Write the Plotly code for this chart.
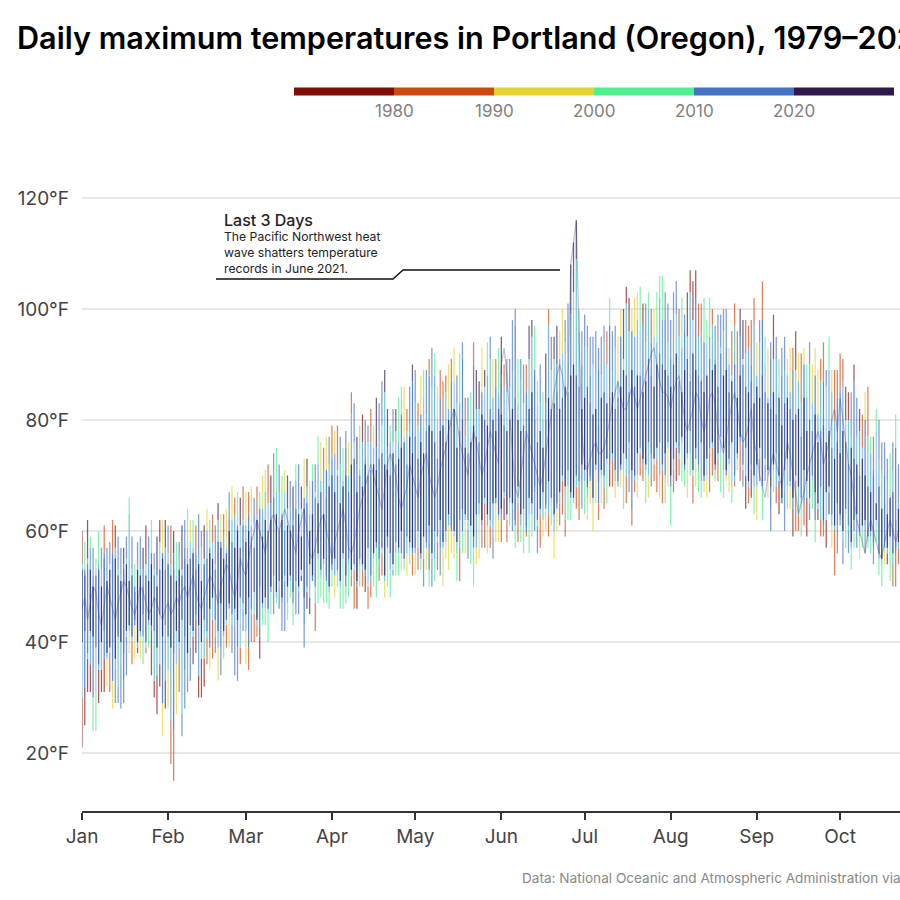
import plotly.graph_objects as go

MONTHS = ["Jan", "Feb", "Mar", "Apr", "May", "Jun", "Jul", "Aug", "Sep", "Oct"]
MONTH_STARTS = [0, 31, 59, 90, 120, 151, 181, 212, 243, 273]
Y_TICKS = [20, 40, 60, 80, 100, 120]
Y_LABELS = ["20°F", "40°F", "60°F", "80°F", "100°F", "120°F"]
DECADE_LABELS = ["1980", "1990", "2000", "2010", "2020"]
DECADE_COLORS = ["#7f0f05", "#cc4a10", "#e6d232", "#50f090", "#4472c4", "#2f1a4a"]

# Warmest and coldest daily maximum seen on each calendar day (deg F), Jan 1 -> late Oct
HI = [
 60,58,62,59,57,55,60,57,61,57,58,62,61,59,57,57,59,66,59,54,58,59,57,61,59,62,56,59,62,62,62,
 61,61,60,58,58,61,62,64,62,62,61,63,60,61,64,62,63,61,65,63,63,64,67,68,66,67,66,68,
 67,67,68,66,68,67,70,71,72,70,74,75,72,70,71,70,69,68,72,72,68,73,73,69,72,72,77,76,75,77,77,
 79,78,79,77,75,78,76,85,83,77,79,81,80,79,82,79,84,83,87,89,82,79,82,82,84,86,86,82,86,90,
 89,83,88,89,89,91,93,92,86,89,87,88,90,91,93,88,92,94,84,84,85,94,89,87,93,89,94,95,91,91,93,
 95,90,91,91,98,100,91,91,90,90,97,98,97,87,90,85,92,100,95,95,97,96,100,98,101,108,112,116,100,96,
 99,97,95,95,96,93,95,97,96,102,96,97,95,100,100,104,102,100,102,103,104,101,101,103,100,100,103,106,106,103,101,
 98,103,105,100,102,99,103,107,105,107,101,101,102,98,102,100,97,99,99,100,100,93,96,101,96,100,98,98,97,98,102,
 94,98,105,95,93,94,99,95,91,93,95,91,93,93,96,92,92,93,90,94,90,93,89,91,94,89,95,89,89,89,
 92,91,86,85,85,90,84,82,81,85,86,77,77,82,80,76,76,73,74,76,81,72,
]
LO = [
 21,25,31,31,24,24,29,31,31,32,31,28,29,29,28,29,34,38,36,37,38,37,36,38,39,34,30,27,32,23,28,
 28,18,15,27,31,23,28,31,33,36,38,30,30,32,36,35,37,38,33,34,37,39,39,38,34,33,36,42,
 36,35,40,40,41,37,43,43,40,45,45,47,46,42,42,44,48,43,45,45,51,39,46,45,52,42,47,48,47,47,46,
 50,48,50,46,46,47,48,50,46,46,50,50,49,46,48,50,48,51,52,48,50,48,52,52,52,53,53,52,54,52,
 52,53,53,50,53,50,50,51,53,52,50,55,53,56,55,51,51,56,56,55,54,50,54,55,57,57,56,57,55,58,58,
 58,62,58,61,60,57,58,58,56,59,56,59,60,56,57,59,60,59,61,55,60,61,63,59,62,62,65,64,62,64,
 63,62,65,60,65,62,65,64,65,68,68,66,68,68,64,65,67,61,67,66,70,69,65,66,68,69,67,66,65,65,68,
 61,67,69,70,69,68,66,70,65,68,67,66,67,66,67,70,69,69,67,66,69,67,65,68,71,69,68,64,65,66,63,
 62,69,62,69,66,60,67,65,63,66,60,64,64,59,60,60,59,61,59,62,64,58,62,59,59,57,63,57,52,56,
 61,54,57,56,53,57,57,55,57,56,57,56,54,58,52,50,54,54,51,50,50,54,
]
# Dense centre of each day's spread
CORE_HI = [
 53,52,54,53,50,52,53,50,55,51,53,55,55,52,51,53,54,51,52,49,53,52,50,52,51,54,52,50,53,55,53,
 54,52,53,51,53,52,55,54,55,56,53,54,51,54,55,56,55,53,58,57,55,56,60,58,57,60,57,61,
 58,60,59,57,62,60,59,62,60,62,66,63,60,62,60,61,60,61,64,63,59,64,65,60,63,66,65,67,63,66,68,
 70,67,70,65,68,70,67,72,73,67,70,68,72,70,71,72,71,73,74,72,71,70,74,72,73,75,76,72,77,74,
 77,73,76,74,78,79,78,76,73,78,79,76,80,80,82,75,78,80,75,74,76,79,77,76,81,80,79,82,80,78,82,
 81,79,78,80,82,84,80,78,79,77,82,85,80,76,78,75,80,84,82,83,85,82,84,86,85,88,90,88,86,82,
 84,86,83,81,82,79,84,85,83,84,85,82,84,86,89,88,85,89,86,88,88,85,87,91,88,86,90,92,90,89,88,
 86,90,92,87,85,89,91,87,92,89,88,87,85,88,91,89,90,86,92,88,89,85,87,90,84,88,90,86,85,87,83,
 86,84,88,85,83,82,85,81,84,79,83,84,82,80,81,82,77,84,78,80,78,81,76,78,79,76,78,75,73,76,
 74,78,76,72,75,73,72,70,73,70,68,67,70,65,68,64,65,63,66,67,62,64,
]
CORE_LO = [
 40,42,38,42,41,39,36,40,42,38,39,40,37,41,40,38,42,43,41,44,40,42,45,40,44,43,42,39,45,41,43,
 41,39,38,42,40,44,41,38,43,42,45,43,40,44,42,46,48,44,42,47,42,44,47,45,46,44,48,47,
 45,48,46,49,44,50,47,48,46,50,52,49,51,48,52,50,52,49,51,50,53,48,50,54,52,50,56,53,55,52,50,
 54,55,53,51,56,52,55,53,54,51,55,54,53,57,52,56,58,55,57,52,59,56,54,58,57,60,55,59,58,57,
 57,60,56,59,58,61,56,60,59,62,58,60,63,61,60,58,62,64,63,62,61,59,63,65,62,66,63,62,65,66,63,
 64,67,63,66,65,62,68,63,64,61,66,65,68,62,64,67,65,69,66,63,65,67,70,68,71,67,66,70,69,72,
 71,68,70,66,72,69,71,70,73,72,74,71,69,72,74,73,76,71,70,74,75,73,72,76,74,73,75,76,72,74,76,
 70,73,76,74,77,72,74,78,71,75,72,76,70,73,75,76,72,74,77,75,71,73,76,70,74,77,72,75,69,72,70,
 72,75,69,73,71,68,72,74,70,66,71,73,69,66,70,68,66,71,69,66,70,67,65,68,62,67,68,63,61,65,
 63,60,64,61,58,62,63,60,61,62,59,60,58,62,56,55,58,57,59,56,57,58,
]
# The year 2021, drawn as a thin line over the strips
YEAR_2021 = [
 46,48,44,47,50,49,45,43,47,50,48,46,44,47,49,51,50,48,46,45,47,50,49,47,45,46,48,47,45,44,46,
 47,45,46,48,47,49,50,48,50,52,49,47,46,48,50,52,51,49,47,50,52,54,53,50,48,51,55,53,
 52,55,58,60,62,60,58,56,59,62,63,61,60,62,64,62,60,58,56,60,62,64,60,56,55,57,60,62,63,60,58,
 55,58,60,62,64,61,57,56,58,61,64,66,68,70,72,70,68,66,64,68,72,74,72,70,66,64,66,68,72,70,
 68,66,70,72,74,70,68,66,68,71,73,75,78,80,82,80,76,74,72,70,75,78,76,73,70,72,75,78,76,74,72,
 90,93,88,80,74,68,66,70,74,78,76,74,72,70,68,70,74,78,82,85,88,90,88,84,86,108,112,116,95,78,
 72,71,73,75,76,74,74,75,77,80,83,85,87,84,82,82,84,86,84,82,84,86,88,90,92,93,90,87,85,85,84,
 82,85,87,88,84,80,78,80,82,85,84,80,78,80,84,85,83,78,76,74,77,80,83,85,82,78,76,77,79,82,76,
 74,70,68,66,70,72,74,72,70,68,72,76,74,70,66,63,65,67,70,72,74,76,78,76,72,74,76,80,82,78,
 84,80,76,72,70,66,62,60,58,56,60,62,60,58,56,55,58,60,62,60,58,60,
]
# Decade of the warmest / coldest record per day (index into DECADE_COLORS)
HI_DECADE = ("0353433414" "4104454343" "44504345025"
 "4153454323" "1445231452" "12421351"
 "2124132215" "4343254534" "5252343212" "4"
 "1214342145" "3044125445" "5345332145"
 "4123414321" "1121243414" "3155253421" "3"
 "5144443441" "5533435115" "5224455534"
 "4444444413" "4422500222" "30431233344"
 "4441340000" "1133314444" "42111551111"
 "2413240434" "4221021234" "2221143211"
 "1100404012" "1313444434" "34")
LO_DECADE = ("0000330002" "1244444212" "02313000020"
 "2112144440" "0000121424" "31244414"
 "2141103333" "434443" "334454553133333"
 "3233333110" "3101133112" "3343323231"
 "2134234314" "2222231324" "3322412142" "2"
 "1013431331" "3344122132" "2111333114"
 "3222212130" "1212314112" "1132411213" "2"
 "3101332312" "3322113133" "22312145103"
 "2134243103" "4320113104" "3301105214"
 "4434334234" "3343332031" "11")
# Degrees the warm/cold tip keeps its own colour
HI_TIP = ("6572568476" "5948657364" "58472637485"
 "5746385746" "5837465938" "47563857"
 "6475836475" "3857465938" "4756385746" "5"
 "6485736475" "8573649584" "7364859473"
 "6475837465" "7384659374" "6475836475" "8"
 "7465938475" "6384759364" "7584999746"
 "6475847365" "7485936475" "84736594857"
 "7465938475" "6584736594" "73849576485"
 "6475938475" "6384759364" "7584736495"
 "7465837465" "9384756475" "67")
LO_TIP = ("9785678465" "7563847569" "47586937465"
 "7899847365" "6475847365" "74859637"
 "6475847365" "7485936475" "8473659485" "7"
 "6475938475" "6384759364" "7584736495"
 "7465837465" "9384756475" "6738495647" "5"
 "6475847365" "7485936475" "8473659485"
 "6475938475" "6384759364" "75847364957"
 "7465837465" "9384756475" "67384956475"
 "6475847365" "7485936475" "8473659485"
 "6475938475" "6384759364" "75")
# Tone of the outer strip and of the centre per day
MID_TONE = ("sbtsbmstbs" "mbstsbmtsb" "stbmsbtsmbs"
 "tsbmstbsmt" "bsmtsbmtsb" "smbtsbmt"
 "sbtmsbstmb" "stsbmtsbst" "mbstbmstsb" "t"
 "bsmtsbtsmb" "tsbmstbsmt" "bsmtsbmtsb"
 "stbmsbtsmb" "stsbmtsbst" "mbstbmstsb" "t"
 "bsmtsbtsmb" "tsbmstbsmt" "bsmtsbmtsb"
 "stbmsbtsmb" "stsbmtsbst" "mbstbmstsbt"
 "bsmtsbtsmb" "tsbmstbsmt" "bsmtsbmtsbs"
 "stbmsbtsmb" "stsbmtsbst" "mbstbmstsb"
 "bsmtsbtsmb" "tsbmstbsmt" "bs")
CORE_TONE = ("npbnnbpnbn" "nbnpnbnnpb" "nnbpnnbnpnb"
 "pnbnnpbnpn" "bnnpbnnbpn" "npnbnnpb"
 "nnbpnbnnpn" "bnpnbnnpbn" "npbnnbnpnb" "n"
 "pnbnnpbnpn" "bnnpbnnbpn" "npnbnnpbnn"
 "bpnnbnnpbn" "npnbnnbpnb" "nnpbnpnbnn" "p"
 "nbnpnbnnpb" "nnbpnnbnpn" "bnpnbnnpbn"
 "npbnnbnpnb" "npbnnpbnpn" "bnnpbnnbpnb"
 "npnbnnpbnn" "bpnnbnnpbn" "npnbnnbpnbn"
 "nnpbnpnbnn" "pnbnpnbnnp" "bnnbpnnbnp"
 "nnpbnpnbnn" "pnbnpnbnnp" "bn")
MID_COLORS = {"s": "#76b2e2", "b": "#5686d0", "t": "#70cacd", "m": "#96c9eb"}
CORE_COLORS = {"n": "#282a68", "p": "#4f5aa6", "b": "#5f7ec8"}

for series in (HI, LO, CORE_HI, CORE_LO, YEAR_2021, HI_DECADE, LO_DECADE, HI_TIP, LO_TIP, MID_TONE, CORE_TONE):
    assert len(series) == 295, len(series)

# Page geometry of the plot frame, in pixels
W, H = 900, 900
LEFT, TOP, BOTTOM = 82, 170, 811
def px(v): return (v - LEFT) / (W - LEFT)
def py(v): return (BOTTOM - v) / (BOTTOM - TOP)
FONT = "Inter"

def strips(pieces, color, width, opacity):
    xs, ys = [], []
    for d, a, b in pieces:
        xs += [d, d, None]
        ys += [a, b, None]
    return go.Scatter(x=xs, y=ys, mode="lines", opacity=opacity, hoverinfo="skip", showlegend=False,
                      line=dict(color=color, width=width, simplify=False))

days = list(range(len(HI)))
mid_hi = [max(HI[d] - int(HI_TIP[d]), CORE_HI[d] + 1) for d in days]
mid_lo = [min(LO[d] + int(LO_TIP[d]), CORE_LO[d] - 1) for d in days]

fig = go.Figure()
for i, color in enumerate(DECADE_COLORS):
    fig.add_trace(strips([(d, mid_hi[d], HI[d]) for d in days if int(HI_DECADE[d]) == i], color, 1.25, 0.68))
    fig.add_trace(strips([(d, LO[d], mid_lo[d]) for d in days if int(LO_DECADE[d]) == i], color, 1.25, 0.68))
for key, color in MID_COLORS.items():
    fig.add_trace(strips([(d, mid_lo[d], mid_hi[d]) for d in days if MID_TONE[d] == key], color, 1.25, 0.95))
for key, color in CORE_COLORS.items():
    fig.add_trace(strips([(d, CORE_LO[d], CORE_HI[d]) for d in days if CORE_TONE[d] == key], color, 1.2, 0.85))
fig.add_trace(go.Scatter(x=days, y=YEAR_2021, mode="lines", hoverinfo="skip", showlegend=False,
                         line=dict(color="rgba(60,50,120,0.32)", width=1.2)))

shapes = []
seg = 100
for i, color in enumerate(DECADE_COLORS):
    shapes.append(dict(type="rect", xref="paper", yref="paper", layer="above",
                       x0=px(294 + i * seg), x1=px(294 + (i + 1) * seg), y0=py(95.5), y1=py(87.5),
                       fillcolor=color, line_width=0))
shapes.append(dict(type="path", xref="paper", yref="paper", layer="above",
                   path=f"M {px(216)} {py(279)} L {px(393)} {py(279)} L {px(403)} {py(270)} L {px(560)} {py(270)}",
                   line=dict(color="#111111", width=1.4)))

annotations = [dict(xref="paper", yref="paper", x=px(394 + i * seg), y=py(111), text=t, showarrow=False,
                    xanchor="center", yanchor="middle", font=dict(family=FONT, size=17, color="#808080"))
               for i, t in enumerate(DECADE_LABELS)]
annotations += [
    dict(xref="paper", yref="paper", x=px(224), y=py(220), text="Last 3 Days", showarrow=False, xanchor="left",
         yanchor="middle", font=dict(family=FONT, size=16, color="#222222", weight=500), xshift=-2),
    dict(xref="paper", yref="paper", x=px(224), y=py(227),
         text="The Pacific Northwest heat<br>wave shatters temperature<br>records in June 2021.", align="left",
         showarrow=False, xanchor="left", yanchor="top", font=dict(family=FONT, size=12.2, color="#222222"), xshift=-2),
    dict(xref="paper", yref="paper", x=px(522), y=py(878),
         text="Data: National Oceanic and Atmospheric Administration via", showarrow=False,
         xanchor="left", yanchor="middle", font=dict(family=FONT, size=13.6, color="#888888"), xshift=-2),
]

fig.update_layout(
    width=W, height=H, paper_bgcolor="white", plot_bgcolor="white",
    margin=dict(l=LEFT, r=0, t=TOP, b=H - BOTTOM, pad=0),
    font=dict(family=FONT),
    title=dict(text="Daily maximum temperatures in Portland (Oregon), 1979–2021", xref="container", yref="container",
               x=17 / W, y=1 - 38 / H, xanchor="left", yanchor="middle",
               font=dict(family=FONT, size=30.6, color="#000000", weight=600)),
    shapes=shapes, annotations=annotations,
    xaxis=dict(range=[0, (W - LEFT) / 2.777], tickvals=MONTH_STARTS, ticktext=MONTHS, ticks="outside", ticklen=7,
               tickwidth=2, tickcolor="#333333", showline=True, linecolor="#333333", linewidth=2, showgrid=False,
               zeroline=False, tickfont=dict(family=FONT, size=19, color="#444444")),
    yaxis=dict(range=[120 - (BOTTOM - 198) / 5.55, 120 + (198 - TOP) / 5.55], tickvals=Y_TICKS, ticktext=Y_LABELS, ticks="",
               showgrid=True, gridcolor="#e8e8e8", gridwidth=2, zeroline=False, showline=False,
               ticklabelstandoff=12, tickfont=dict(family=FONT, size=19, color="#444444")),
)
fig.write_html("out.html", config={"displayModeBar": False}, post_script="document.body.style.margin='0';")
